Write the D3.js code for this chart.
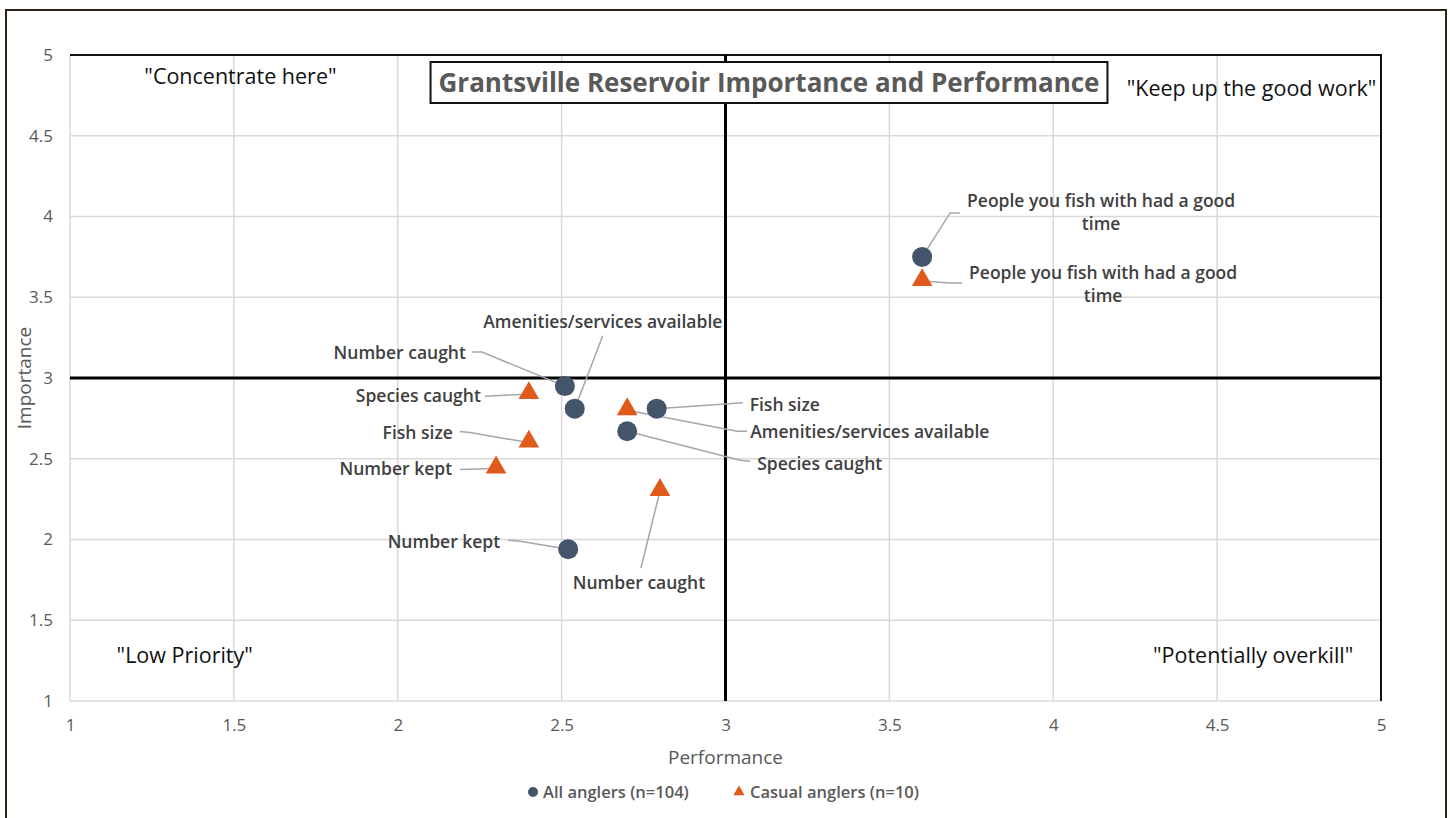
<!DOCTYPE html>
<html lang="en">
<head>
    <meta charset="UTF-8">
    <title>Grantsville Reservoir Importance and Performance</title>
    <style>
        body { margin: 0; background: #fff; }
        svg { display: block; font-family: "Open Sans", sans-serif; }
    </style>
</head>
<body>
    <svg id="chart" width="1450" height="818"></svg>
    <script src="https://d3js.org/d3.v7.min.js"></script>
    <script>
        // data
        var labels = ["People you fish with had a good time", "Number caught", "Amenities/services available",
                      "Fish size", "Species caught", "Number kept"];
        var allPerformance = [3.6, 2.51, 2.54, 2.79, 2.70, 2.52];
        var allImportance = [3.75, 2.95, 2.81, 2.81, 2.67, 1.94];
        var casualLabels = ["People you fish with had a good time", "Species caught", "Amenities/services available",
                            "Fish size", "Number kept", "Number caught"];
        var casualPerformance = [3.6, 2.4, 2.7, 2.4, 2.3, 2.8];
        var casualImportance = [3.6, 2.9, 2.8, 2.6, 2.44, 2.3];
        var ticks = [1, 1.5, 2, 2.5, 3, 3.5, 4, 4.5, 5];
        var seriesNames = ["All anglers (n=104)", "Casual anglers (n=10)"];

        // label placement (pixel offsets from the mark): text dx, dy, anchor, leader bends
        var allLayout = [
            { dx: 179, dy: -56, anchor: "middle", wrap: true, leader: [[28, -44], [38, -44]] },
            { dx: -99, dy: -33, anchor: "end", leader: [[-83, -34], [-93, -34]] },
            { dx: 28, dy: -87, anchor: "middle", leader: [[28, -73]] },
            { dx: 93, dy: -4, anchor: "start", leader: [[86, -6]] },
            { dx: 130, dy: 33, anchor: "start", leader: [[113, 29], [123, 30]] },
            { dx: -68, dy: -7, anchor: "end", leader: [[-48, -8], [-60, -9]] }
        ];
        var casualLayout = [
            { dx: 181, dy: -8, anchor: "middle", wrap: true, leader: [[28, 2], [40, 2]] },
            { dx: -48, dy: 2, anchor: "end", leader: [[-44, 2]] },
            { dx: 123, dy: 22, anchor: "start", leader: [[110, 21], [120, 21]] },
            { dx: -76, dy: -10, anchor: "end", leader: [[-59, -10], [-69, -11]] },
            { dx: -44, dy: 0, anchor: "end", leader: [[-36, 1]] },
            { dx: -21, dy: 92, anchor: "middle", leader: [[-19, 77]] }
        ];

        var circleColor = "#44546a", triColor = "#e05a1c";
        var svg = d3.select("#chart");

        // outer frame
        svg.append("rect")
            .attr("x", 6).attr("y", 10).attr("width", 1440).attr("height", 830)
            .attr("fill", "none").attr("stroke", "#2b2212").attr("stroke-width", 2);

        var x = d3.scaleLinear().domain([1, 5]).range([70, 1381]);
        var y = d3.scaleLinear().domain([1, 5]).range([701, 55]);

        // gridlines
        svg.append("g").selectAll("line").data(ticks).enter().append("line")
            .attr("x1", function(d) { return x(d); }).attr("x2", function(d) { return x(d); })
            .attr("y1", y(5)).attr("y2", y(1))
            .attr("stroke", "#d9d9d9").attr("stroke-width", 1.5);
        svg.append("g").selectAll("line").data(ticks).enter().append("line")
            .attr("y1", function(d) { return y(d); }).attr("y2", function(d) { return y(d); })
            .attr("x1", x(1)).attr("x2", x(5))
            .attr("stroke", "#d9d9d9").attr("stroke-width", 1.5);

        // top and right plot edges
        svg.append("path")
            .attr("d", "M" + x(1) + "," + y(5) + "H" + x(5) + "V" + y(1))
            .attr("fill", "none").attr("stroke", "#111").attr("stroke-width", 2);

        // quadrant dividers
        svg.append("line").attr("x1", x(3)).attr("x2", x(3)).attr("y1", y(5)).attr("y2", y(1))
            .attr("stroke", "#000").attr("stroke-width", 3);
        svg.append("line").attr("x1", x(1)).attr("x2", x(5)).attr("y1", y(3)).attr("y2", y(3))
            .attr("stroke", "#000").attr("stroke-width", 3);

        // axes
        var xAxis = svg.append("g").attr("transform", "translate(0," + y(1) + ")")
            .call(d3.axisBottom(x).tickValues(ticks).tickSize(0).tickPadding(18).tickFormat(d3.format("")));
        var yAxis = svg.append("g").attr("transform", "translate(" + x(1) + ",0)")
            .call(d3.axisLeft(y).tickValues(ticks).tickSize(0).tickPadding(17).tickFormat(d3.format("")));
        [xAxis, yAxis].forEach(function(a) {
            a.select(".domain").remove();
            a.selectAll("text").attr("fill", "#595959").style("font-size", "17px")
                .style("font-family", "'Open Sans', sans-serif");
        });

        svg.append("text").attr("x", x(3)).attr("y", 757).attr("dy", "0.35em").attr("text-anchor", "middle")
            .attr("fill", "#595959").style("font-size", "19px").text("Performance");
        svg.append("text").attr("transform", "translate(24," + y(3) + ") rotate(-90)")
            .attr("dy", "0.35em").attr("text-anchor", "middle").attr("fill", "#595959")
            .style("font-size", "19px").text("Importance");

        // quadrant captions
        var quads = [
            { t: "\"Concentrate here\"", px: 1.52, py: 4.87 },
            { t: "\"Keep up the good work\"", px: 4.605, py: 4.79 },
            { t: "\"Low Priority\"", px: 1.35, py: 1.28 },
            { t: "\"Potentially overkill\"", px: 4.61, py: 1.28 }
        ];
        svg.append("g").selectAll("text").data(quads).enter().append("text")
            .attr("x", function(d) { return x(d.px); })
            .attr("y", function(d) { return y(d.py); })
            .attr("dy", "0.35em").attr("text-anchor", "middle")
            .attr("fill", "#111").style("font-size", "21.5px")
            .text(function(d) { return d.t; });

        // title box
        var titleG = svg.append("g");
        var box = titleG.append("rect");
        var title = titleG.append("text").attr("x", 769).attr("y", 83).attr("dy", "0.35em")
            .attr("text-anchor", "middle").attr("fill", "#595959")
            .style("font-size", "26px").style("font-weight", "bold")
            .text("Grantsville Reservoir Importance and Performance");
        var tb = title.node().getBBox();
        box.attr("x", tb.x - 8).attr("y", 62).attr("width", tb.width + 16).attr("height", 41)
            .attr("fill", "#fff").attr("stroke", "#111").attr("stroke-width", 2);

        // labels + leaders
        function drawLabels(names, px, py, layout) {
            var g = svg.append("g");
            names.forEach(function(name, i) {
                var cx = x(px[i]), cy = y(py[i]), L = layout[i];
                var pts = [[cx, cy]].concat(L.leader.map(function(p) { return [cx + p[0], cy + p[1]]; }));
                g.append("path").attr("d", d3.line()(pts))
                    .attr("fill", "none").attr("stroke", "#a6a6a6").attr("stroke-width", 1.5);
                var t = g.append("text").attr("x", cx + L.dx).attr("y", cy + L.dy).attr("dy", "0.35em")
                    .attr("text-anchor", L.anchor).attr("fill", "#404040")
                    .style("font-size", "17.5px").style("font-weight", "600");
                if (L.wrap) {
                    var words = name.split(" ");
                    t.append("tspan").attr("x", cx + L.dx).text(words.slice(0, -1).join(" "));
                    t.append("tspan").attr("x", cx + L.dx).attr("dy", "23").text(words[words.length - 1]);
                } else {
                    t.text(name);
                }
            });
        }
        drawLabels(labels, allPerformance, allImportance, allLayout);
        drawLabels(casualLabels, casualPerformance, casualImportance, casualLayout);

        // marks
        svg.append("g").selectAll("circle").data(allPerformance).enter().append("circle")
            .attr("cx", function(d) { return x(d); })
            .attr("cy", function(d, i) { return y(allImportance[i]); })
            .attr("r", 10).attr("fill", circleColor);
        var tri = d3.symbol().type(d3.symbolTriangle).size(185);
        svg.append("g").selectAll("path").data(casualPerformance).enter().append("path")
            .attr("d", tri)
            .attr("transform", function(d, i) { return "translate(" + x(d) + "," + (y(casualImportance[i]) - 1) + ")"; })
            .attr("fill", triColor);

        // legend
        var legend = svg.append("g").style("font-size", "16.5px").style("font-weight", "600").attr("fill", "#595959");
        legend.append("circle").attr("cx", 533).attr("cy", 792).attr("r", 5).attr("fill", circleColor);
        legend.append("text").attr("x", 543).attr("y", 792).attr("dy", "0.35em").text(seriesNames[0]);
        legend.append("path").attr("d", d3.symbol().type(d3.symbolTriangle).size(55))
            .attr("transform", "translate(739,792)").attr("fill", triColor);
        legend.append("text").attr("x", 750).attr("y", 792).attr("dy", "0.35em").text(seriesNames[1]);
    </script>
</body>
</html>
